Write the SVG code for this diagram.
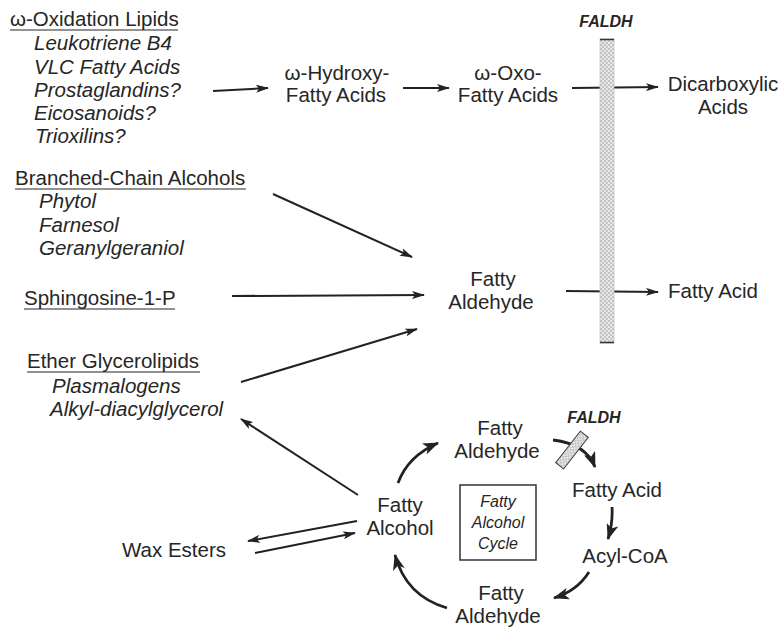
<svg xmlns="http://www.w3.org/2000/svg" width="782" height="631" viewBox="0 0 782 631">
<style>
text{font-family:"Liberation Sans",Arial,sans-serif;fill:#262626}
.t{font-size:20.5px}
.m{font-size:20.5px;text-anchor:middle}
.i{font-size:20.5px;font-style:italic}
.bi{font-size:16px;font-style:italic;font-weight:bold;text-anchor:middle}
.si{font-size:16px;font-style:italic;text-anchor:middle}
.ul{stroke:#262626;stroke-width:1.2}
.c{stroke:#222;stroke-width:2;fill:none;marker-end:url(#ah)}
.cb{stroke:#222;stroke-width:2.8;fill:none;marker-end:url(#ahb)}
</style>
<defs>
<marker id="ah" viewBox="0 0 13 8" markerWidth="13" markerHeight="8" markerUnits="userSpaceOnUse" refX="12" refY="4" orient="auto">
<path d="M0,0 L13,4 L0,8 L3,4 z" fill="#222"/>
</marker>
<marker id="ahb" viewBox="0 0 16 12" markerWidth="16" markerHeight="12" markerUnits="userSpaceOnUse" refX="15" refY="6" orient="auto">
<path d="M0,0 L16,6 L0,12 L4,6 z" fill="#222"/>
</marker>
<pattern id="stip" width="4" height="4" patternUnits="userSpaceOnUse">
<rect width="4" height="4" fill="#e8e8e8"/>
<circle cx="1" cy="1" r="0.75" fill="#8c8c8c"/>
<circle cx="3" cy="3" r="0.75" fill="#8c8c8c"/>
</pattern>
</defs>
<rect width="782" height="631" fill="#fff"/>

<g id="connectors">
<line class="c" x1="213" y1="91" x2="268" y2="88"/>
<line class="c" x1="403" y1="88" x2="449" y2="88"/>
<line class="c" x1="572" y1="88" x2="658" y2="87"/>
<line class="c" x1="273" y1="194" x2="412" y2="257"/>
<line class="c" x1="232" y1="296" x2="424" y2="295"/>
<line class="c" x1="241" y1="382" x2="417" y2="329"/>
<line class="c" x1="566" y1="291" x2="658" y2="292"/>
<line class="c" x1="358" y1="495" x2="241" y2="419"/>
<line class="c" x1="357" y1="521" x2="248" y2="541"/>
<line class="c" x1="255" y1="553" x2="355" y2="533"/>
<path class="cb" d="M398,483 Q408,456 438,443"/>
<path class="cb" d="M553,440 Q586,444 595,467"/>
<path class="cb" d="M612,507 Q613,523 608,539"/>
<path class="cb" d="M589,572 Q577,591 554,598"/>
<path class="cb" d="M447,608 Q406,596 395,555"/>
</g>

<g id="omega-lipids">
<text class="t" x="10" y="26">ω-Oxidation Lipids</text>
<line class="ul" x1="10" y1="30" x2="178" y2="30"/>
<text class="i" x="34" y="50">Leukotriene B4</text>
<text class="i" x="34" y="74">VLC Fatty Acids</text>
<text class="i" x="34" y="97">Prostaglandins?</text>
<text class="i" x="34" y="120">Eicosanoids?</text>
<text class="i" x="35" y="143">Trioxilins?</text>
</g>

<g id="omega-hydroxy">
<text class="m" x="337" y="80">ω-Hydroxy-</text>
<text class="m" x="336" y="102">Fatty Acids</text>
</g>

<g id="omega-oxo">
<text class="m" x="508" y="80">ω-Oxo-</text>
<text class="m" x="508" y="102">Fatty Acids</text>
</g>

<g id="dicarboxylic">
<text class="m" x="723" y="91">Dicarboxylic</text>
<text class="m" x="723" y="114">Acids</text>
</g>

<g id="faldh-bar">
<text class="bi" x="606" y="27">FALDH</text>
<rect x="600" y="39" width="14" height="304" fill="url(#stip)" stroke="#c4c4c4" stroke-width="0.8"/>
<line x1="600" y1="39.5" x2="614" y2="39.5" stroke="#333" stroke-width="1.5"/>
<line x1="600" y1="342.5" x2="614" y2="342.5" stroke="#333" stroke-width="1.5"/>
</g>

<g id="branched-alcohols">
<text class="t" x="15" y="185">Branched-Chain Alcohols</text>
<line class="ul" x1="15" y1="189" x2="246" y2="189"/>
<text class="i" x="39" y="208">Phytol</text>
<text class="i" x="39" y="232">Farnesol</text>
<text class="i" x="39" y="255">Geranylgeraniol</text>
</g>

<g id="sphingosine">
<text class="t" x="24" y="305">Sphingosine-1-P</text>
<line class="ul" x1="24" y1="309" x2="175" y2="309"/>
</g>

<g id="ether-glycerolipids">
<text class="t" x="27" y="368">Ether Glycerolipids</text>
<line class="ul" x1="27" y1="372" x2="200" y2="372"/>
<text class="i" x="52" y="393">Plasmalogens</text>
<text class="i" x="50" y="416">Alkyl-diacylglycerol</text>
</g>

<g id="fatty-aldehyde-main">
<text class="m" x="493" y="286">Fatty</text>
<text class="m" x="491" y="309">Aldehyde</text>
</g>

<g id="fatty-acid-main">
<text class="t" x="668" y="298">Fatty Acid</text>
</g>

<g id="fatty-aldehyde-top">
<text class="m" x="500" y="435">Fatty</text>
<text class="m" x="497" y="458">Aldehyde</text>
</g>

<g id="faldh-small">
<text class="bi" x="594" y="423">FALDH</text>
<rect x="-20" y="-5" width="40" height="10" fill="url(#stip)" stroke="#333" stroke-width="1" transform="translate(572,450) rotate(-52)"/>
</g>

<g id="fatty-acid-cycle">
<text class="m" x="617" y="497">Fatty Acid</text>
</g>

<g id="acyl-coa">
<text class="m" x="625" y="563">Acyl-CoA</text>
</g>

<g id="fatty-aldehyde-bottom">
<text class="m" x="501" y="600">Fatty</text>
<text class="m" x="498" y="623">Aldehyde</text>
</g>

<g id="fatty-alcohol">
<text class="m" x="400" y="512">Fatty</text>
<text class="m" x="400" y="535">Alcohol</text>
</g>

<g id="cycle-box">
<rect x="460" y="485" width="76" height="75" fill="none" stroke="#333" stroke-width="1.5"/>
<text class="si" x="498" y="507">Fatty</text>
<text class="si" x="498" y="528">Alcohol</text>
<text class="si" x="498" y="549">Cycle</text>
</g>

<g id="wax-esters">
<text class="m" x="174" y="557">Wax Esters</text>
</g>
</svg>
